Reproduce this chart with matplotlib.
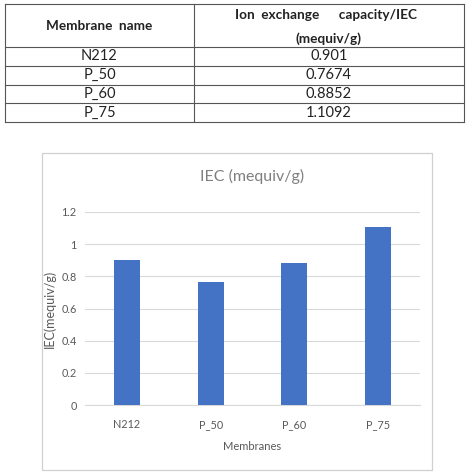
import matplotlib.pyplot as plt
from matplotlib.patches import Rectangle

# data
membranes = ["N212", "P_50", "P_60", "P_75"]
iec = [0.901, 0.7674, 0.8852, 1.1092]
iec_text = ["0.901", "0.7674", "0.8852", "1.1092"]
yticks = [0, 0.2, 0.4, 0.6, 0.8, 1, 1.2]
ytick_labels = ["0", "0.2", "0.4", "0.6", "0.8", "1", "1.2"]

plt.rcParams["font.family"] = ["Lato", "DejaVu Sans"]

W, H = 469, 476
fig = plt.figure(figsize=(W / 100, H / 100), dpi=100)

# --- table on top ---
tab = fig.add_axes([0, 0, 1, 1])
tab.set_xlim(0, W)
tab.set_ylim(H, 0)
tab.axis("off")

left, right, mid = 5, 464, 194
top, head_bot, row_h = 4, 47, 18.75
bottom = head_bot + row_h * len(membranes)
lc = "#555555"
for y in [top, head_bot] + [head_bot + row_h * (i + 1) for i in range(len(membranes))]:
    tab.plot([left, right], [y, y], color=lc, lw=0.8)
for x in [left, mid, right]:
    tab.plot([x, x], [top, bottom], color=lc, lw=0.8)

c1 = (left + mid) / 2
c2 = (mid + right) / 2
tab.text(c1, (top + head_bot) / 2 + 1, "Membrane  name", ha="center", va="center",
         fontsize=9.8, fontweight="bold", color="#222222")
tab.text(c2 - 3, 15, "Ion  exchange      capacity/IEC", ha="center", va="center",
         fontsize=9.8, fontweight="bold", color="#222222")
tab.text(c2, 39, "(mequiv/g)", ha="center", va="center",
         fontsize=9.8, fontweight="bold", color="#222222")
for i, (m, t) in enumerate(zip(membranes, iec_text)):
    yc = head_bot + row_h * (i + 0.5)
    tab.text(c1, yc, m, ha="center", va="center", fontsize=10.5, color="#222222")
    tab.text(c2, yc, t, ha="center", va="center", fontsize=10.5, color="#222222")

# chart frame
tab.add_patch(Rectangle((42, 153), 390, 317, fill=False, edgecolor="#D0D0D0", lw=0.9))

# --- bar chart ---
ax = fig.add_axes([85 / W, (H - 405) / H, 335 / W, (405 - 212) / H])
ax.bar(range(len(membranes)), iec, width=0.31, color="#4472C4", zorder=3)
ax.set_xlim(-0.5, len(membranes) - 0.5)
ax.set_ylim(0, 1.2)
ax.set_yticks(yticks)
ax.set_yticklabels(ytick_labels)
ax.set_xticks(range(len(membranes)))
ax.set_xticklabels(membranes)
ax.grid(axis="y", color="#D9D9D9", lw=0.8, zorder=0)
for s in ["top", "right", "left"]:
    ax.spines[s].set_visible(False)
ax.spines["bottom"].set_color("#D9D9D9")
ax.tick_params(length=0, colors="#595959", labelsize=7.8)
ax.tick_params(axis="y", pad=6)
ax.tick_params(axis="x", pad=10)
ax.set_title("IEC (mequiv/g)", fontsize=11.5, color="#7F7F7F", pad=22)
ax.set_xlabel("Membranes", fontsize=8, color="#595959", labelpad=8)
ax.set_ylabel("IEC(mequiv/g)", fontsize=9, color="#595959")
ax.yaxis.set_label_coords(-0.088, 0.5)

fig.savefig("out.png", dpi=100)
